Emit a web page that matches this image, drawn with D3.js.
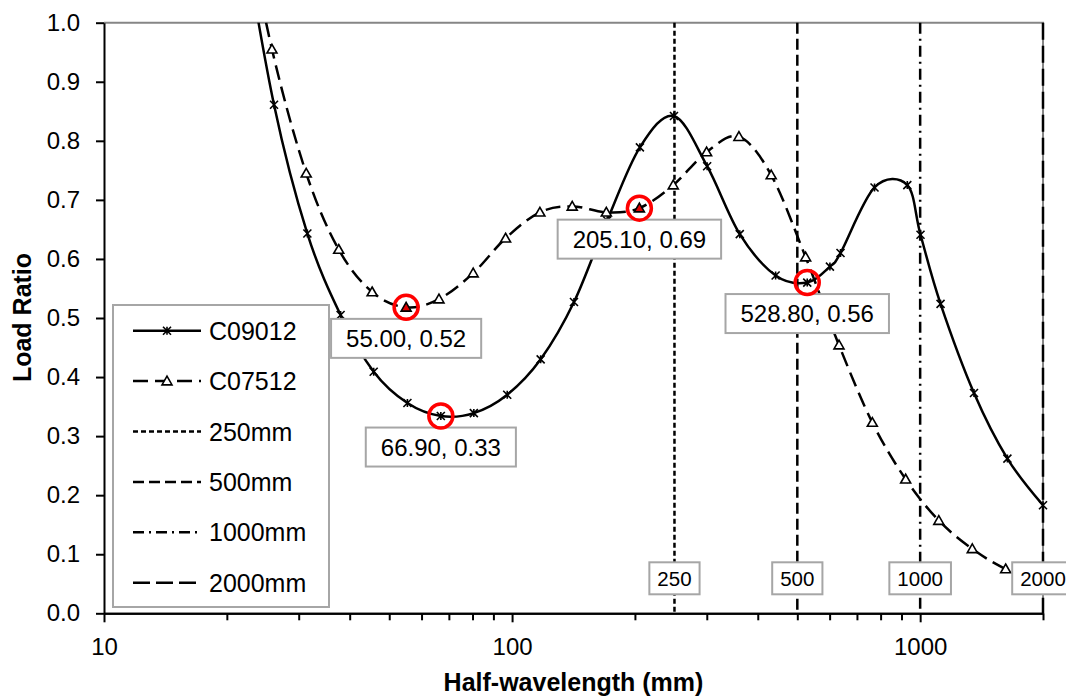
<!DOCTYPE html>
<html>
<head>
<meta charset="utf-8">
<script src="https://cdn.jsdelivr.net/npm/d3@7"></script>
<style>
  body { margin: 0; background: #fff; }
  text { font-family: "Liberation Sans", Arial, sans-serif; fill: #000; }
</style>
</head>
<body>
<div id="chart"></div>
<script>
// Chart values
const c09012X = [21.6, 26.1, 31.5, 38.0, 45.8, 55.4, 66.9, 80.6, 97.3, 117.5, 141.8, 171.0, 205.7, 249.3, 300.6,
    361.4, 442.4, 528.8, 601, 638, 773, 930, 1002, 1122, 1355, 1636, 2000];
const c09012Y = [1.18, 0.861, 0.643, 0.505, 0.409, 0.356, 0.334, 0.339, 0.370, 0.430, 0.527, 0.665, 0.789, 0.842, 0.757,
    0.642, 0.572, 0.560, 0.587, 0.610, 0.721, 0.725, 0.641, 0.524, 0.373, 0.262, 0.183];

const c07512X = [21.6, 25.8, 31.3, 37.6, 45.4, 55.0, 66.2, 80.3, 96.4, 117, 140.4, 170.2, 205.1, 248.3, 299.7,
    359.7, 431.5, 524, 632.6, 763.5, 921.5, 1111, 1342, 1620, 2000];
const c07512Y = [1.22, 0.955, 0.745, 0.616, 0.544, 0.518, 0.532, 0.576, 0.635, 0.679, 0.689, 0.679, 0.686, 0.725, 0.781,
    0.807, 0.742, 0.603, 0.454, 0.323, 0.227, 0.157, 0.109, 0.075, 0.05];

// reference lines (mm)
const refValues = [250, 500, 1000, 2000];
const refNames = ["250mm", "500mm", "1000mm", "2000mm"];

// highlighted points
const hlSeries = ["C07512", "C09012", "C07512", "C09012"];
const hlX = [55.0, 66.9, 205.1, 528.8];

const yTicks = [0, 0.1, 0.2, 0.3, 0.4, 0.5, 0.6, 0.7, 0.8, 0.9, 1.0];
const xMajor = [10, 100, 1000];
const xMinor = [20, 30, 40, 50, 60, 70, 80, 90, 200, 300, 400, 500, 600, 700, 800, 900, 2000];

// layout
const width = 1066, height = 698;
const margin = {left: 104, right: 23, top: 22.7, bottom: 84.7};
const plotW = width - margin.left - margin.right;
const plotH = height - margin.top - margin.bottom;

const refDash = ["5,3", "11,5", "11,5,2,5", "17,6"];

let svg = d3.select("#chart")
    .append("svg")
    .attr("width", width)
    .attr("height", height);

let g = svg.append("g")
    .attr("transform", `translate(${margin.left}, ${margin.top})`);

let x = d3.scaleLog().domain([10, 2000]).range([0, plotW]);
let y = d3.scaleLinear().domain([0, 1]).range([plotH, 0]);

// clip so the curves stop at the plot border
g.append("clipPath").attr("id", "plotClip")
    .append("rect")
    .attr("width", plotW).attr("height", plotH);

// grey frame on top and right
g.append("path")
    .attr("d", `M0,0H${plotW}V${plotH}`)
    .style("fill", "none")
    .style("stroke", "#868686")
    .style("stroke-width", 2);

// reference lines
g.selectAll(".ref")
    .data(refValues)
    .enter()
    .append("line")
    .attr("class", "ref")
    .attr("x1", d => x(d)).attr("x2", d => x(d))
    .attr("y1", 0).attr("y2", plotH)
    .style("stroke", "#000")
    .style("stroke-width", 2.5)
    .style("stroke-dasharray", (d, i) => refDash[i]);

// series
const series = [
    {name: "C09012", xs: c09012X, ys: c09012Y, dash: null, marker: "star"},
    {name: "C07512", xs: c07512X, ys: c07512Y, dash: "15,7", marker: "tri"}
];

let line = d3.line()
    .x(d => x(d[0]))
    .y(d => y(d[1]))
    .curve(d3.curveCatmullRom.alpha(0));

series.forEach(function (s) {
    let pts = s.xs.map((v, i) => [v, s.ys[i]]);
    g.append("path")
        .attr("clip-path", "url(#plotClip)")
        .attr("d", line(pts))
        .style("fill", "none")
        .style("stroke", "#000")
        .style("stroke-width", 2.5)
        .style("stroke-dasharray", s.dash);
});

function starPath(r) {
    return `M${-r},${-r}L${r},${r}M${-r},${r}L${r},${-r}M0,${-r}L0,${r}`;
}
function triPath(r) {
    return `M0,${-r}L${r},${r * 0.75}L${-r},${r * 0.75}Z`;
}

function isHighlighted(name, v) {
    for (let i = 0; i < hlX.length; i++) {
        if (hlSeries[i] === name && hlX[i] === v) return true;
    }
    return false;
}

// markers
series.forEach(function (s) {
    let pts = s.xs.map((v, i) => [v, s.ys[i]]).filter(d => d[1] <= 1);
    g.selectAll(".m-" + s.name)
        .data(pts)
        .enter()
        .append("path")
        .attr("transform", d => `translate(${x(d[0])}, ${y(d[1])})`)
        .attr("d", s.marker === "star" ? starPath(4) : triPath(5))
        .style("fill", d => s.marker === "star" ? "none" : (isHighlighted(s.name, d[0]) ? "#e00000" : "#fff"))
        .style("stroke", "#000")
        .style("stroke-width", 1.6);
});

// axes
let yAxis = d3.axisLeft(y)
    .tickValues(yTicks)
    .tickFormat(d3.format(".1f"))
    .tickSize(8)
    .tickSizeOuter(0)
    .tickPadding(16);

let yg = g.append("g").call(yAxis);

let xMinorAxis = d3.axisBottom(x)
    .tickValues(xMinor)
    .tickFormat("")
    .tickSize(7)
    .tickSizeOuter(0);
g.append("g").attr("transform", `translate(0, ${plotH})`).call(xMinorAxis);

let xAxis = d3.axisBottom(x)
    .tickValues(xMajor)
    .tickFormat(d3.format("d"))
    .tickSize(9)
    .tickSizeOuter(0)
    .tickPadding(16);
let xg = g.append("g").attr("transform", `translate(0, ${plotH})`).call(xAxis);

g.selectAll(".domain, .tick line")
    .style("stroke", "#000")
    .style("stroke-width", 2);
g.selectAll(".tick text")
    .style("font-size", "24px")
    .style("font-family", "Liberation Sans, Arial, sans-serif");

// axis titles
g.append("text")
    .attr("x", plotW / 2)
    .attr("y", plotH + 78)
    .style("text-anchor", "middle")
    .style("font-size", "25px")
    .style("font-weight", "bold")
    .text("Half-wavelength (mm)");

g.append("text")
    .attr("transform", `translate(${31 - margin.left}, ${317.5 - margin.top}) rotate(-90)`)
    .style("text-anchor", "middle")
    .style("font-size", "25px")
    .style("font-weight", "bold")
    .text("Load Ratio");

// boxed label helper: text centred at (cx, cy)
function boxLabel(cx, cy, txt, size, pad, h) {
    let lg = g.append("g");
    let rect = lg.append("rect");
    let t = lg.append("text")
        .attr("x", cx)
        .attr("y", cy)
        .attr("dy", "0.36em")
        .style("text-anchor", "middle")
        .style("font-size", size + "px")
        .text(txt);
    let w = t.node().getComputedTextLength() + pad * 2;
    rect.attr("x", cx - w / 2)
        .attr("y", cy - h / 2)
        .attr("width", w)
        .attr("height", h)
        .style("fill", "#fff")
        .style("stroke", "#a6a6a6")
        .style("stroke-width", 2);
}

// reference line labels at the bottom
refValues.forEach(function (v) {
    boxLabel(x(v), y(0.0) - 35, String(v), 20.5, 8, 32);
});

// highlighted point labels and circles
let fmt = d3.format(".2f");
hlX.forEach(function (v, i) {
    let s = series.find(d => d.name === hlSeries[i]);
    let yv = s.ys[s.xs.indexOf(v)];
    let px = x(v), py = y(yv);
    boxLabel(px, py + 31, `${fmt(v)}, ${fmt(yv)}`, 24, 15, 39);
    g.append("circle")
        .attr("cx", px)
        .attr("cy", py)
        .attr("r", 12)
        .style("fill", "none")
        .style("stroke", "#ff0000")
        .style("stroke-width", 3.5);
});

// legend
let legend = g.append("g")
    .attr("transform", `translate(${113 - margin.left}, ${305 - margin.top})`);
legend.append("rect")
    .attr("width", 216)
    .attr("height", 302)
    .style("fill", "#fff")
    .style("stroke", "#a6a6a6")
    .style("stroke-width", 2);

const legendNames = ["C09012", "C07512"].concat(refNames);
const legendDash = [null, "15,7"].concat(refDash);

legendNames.forEach(function (name, i) {
    let ly = 25.7 + i * 50.4;
    legend.append("line")
        .attr("x1", 20).attr("x2", 88)
        .attr("y1", ly).attr("y2", ly)
        .style("stroke", "#000")
        .style("stroke-width", 2.5)
        .style("stroke-dasharray", legendDash[i]);
    if (i < 2) {
        legend.append("path")
            .attr("transform", `translate(54, ${ly})`)
            .attr("d", i === 0 ? starPath(4) : triPath(5))
            .style("fill", i === 0 ? "none" : "#fff")
            .style("stroke", "#000")
            .style("stroke-width", 1.6);
    }
    legend.append("text")
        .attr("x", 96)
        .attr("y", ly)
        .attr("dy", "0.36em")
        .style("font-size", "25px")
        .text(name);
});
</script>
</body>
</html>
